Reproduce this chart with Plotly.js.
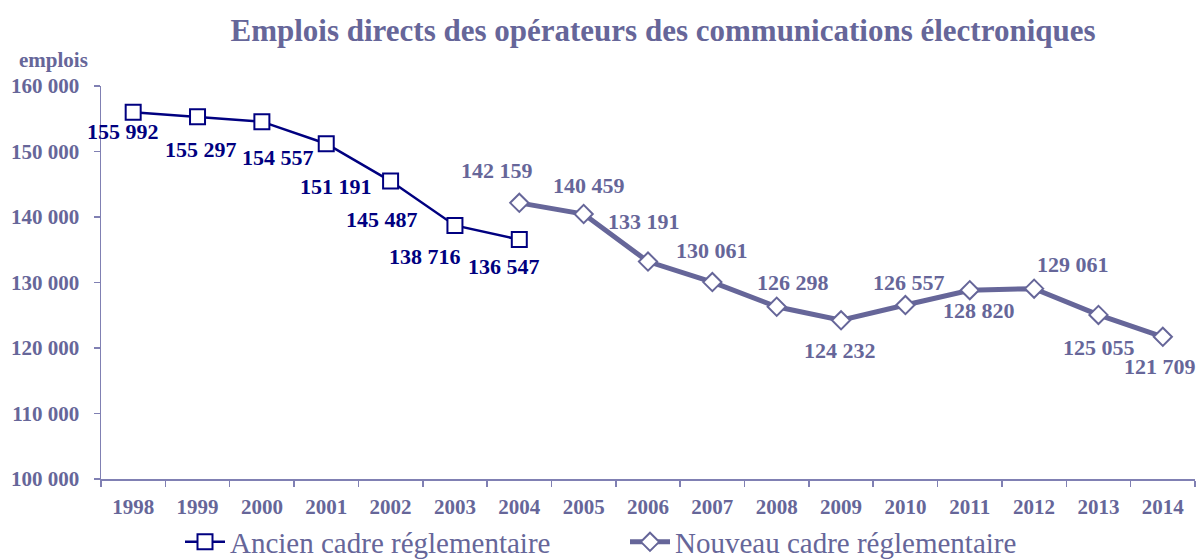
<!DOCTYPE html>
<html><head><meta charset="utf-8">
<script src="https://cdn.plot.ly/plotly-3.0.1.min.js"></script>
<style>html,body{margin:0;padding:0;background:#fff}#chart{width:1201px;height:559px}</style>
</head><body><div id="chart"></div>
<script>
const years = ["1998","1999","2000","2001","2002","2003","2004","2005","2006","2007","2008","2009","2010","2011","2012","2013","2014"];
const oldYears = ["1998","1999","2000","2001","2002","2003","2004"];
const oldValues = [155992,155297,154557,151191,145487,138716,136547];
const newYears = ["2004","2005","2006","2007","2008","2009","2010","2011","2012","2013","2014"];
const newValues = [142159,140459,133191,130061,126298,124232,126557,128820,129061,125055,121709];
const yTicks = [100000,110000,120000,130000,140000,150000,160000];
const oldName = "Ancien cadre réglementaire";
const newName = "Nouveau cadre réglementaire";
// label offsets (pixels) relative to each point
const oldDx = [-10,3,16,10,-9,-30,-15];
const oldDy = [-19,-33,-36,-43,-38,-31,-27];
const newDx = [-22,5,-4,0,16,-1,4,9,39,1,-3];
const newDy = [32,28,40,32,24,-30,23,-20,24,-33,-30];

const fmt = v => String(v).replace(/\B(?=(\d{3})+(?!\d))/g, " ");
const FONT = "Liberation Serif, DejaVu Serif, serif";
const NAVY = "#000080", SLATE = "#666699", AXIS = "#8080b3";

const traces = [
  {x: oldYears, y: oldValues, name: oldName, type: "scatter", mode: "lines+markers",
   line: {color: NAVY, width: 2.5},
   marker: {symbol: "square", size: 15, color: "#ffffff", line: {color: NAVY, width: 2}}},
  {x: newYears, y: newValues, name: newName, type: "scatter", mode: "lines+markers",
   line: {color: SLATE, width: 5},
   marker: {symbol: "diamond", size: 14, color: "#ffffff", line: {color: SLATE, width: 2}}}
];

const annotations = [];
oldYears.forEach((yr, i) => annotations.push({x: years.indexOf(yr), y: oldValues[i], xref: "x", yref: "y",
  text: fmt(oldValues[i]), showarrow: false, xshift: oldDx[i], yshift: oldDy[i],
  xanchor: "center", yanchor: "middle",
  font: {family: FONT, size: 22, color: NAVY, weight: "bold"}}));
newYears.forEach((yr, i) => annotations.push({x: years.indexOf(yr), y: newValues[i], xref: "x", yref: "y",
  text: fmt(newValues[i]), showarrow: false, xshift: newDx[i], yshift: newDy[i],
  xanchor: "center", yanchor: "middle",
  font: {family: FONT, size: 22, color: SLATE, weight: "bold"}}));
annotations.push({xref: "paper", yref: "paper", x: -0.043, y: 1.0, yshift: 26, xanchor: "center", yanchor: "middle",
  text: "emplois", showarrow: false, font: {family: FONT, size: 21, color: SLATE, weight: "bold"}});

const layout = {
  width: 1201, height: 559,
  margin: {l: 101, r: 6, t: 86, b: 80, autoexpand: false},
  paper_bgcolor: "#ffffff", plot_bgcolor: "#ffffff",
  font: {family: FONT, color: SLATE},
  title: {text: "Emplois directs des opérateurs des communications électroniques",
    x: 663/1201, xref: "container", xanchor: "center", y: 1 - 30/559, yanchor: "middle",
    font: {family: FONT, size: 31, color: SLATE, weight: "bold"}},
  xaxis: {type: "category", categoryorder: "array", categoryarray: years, range: [-0.5, 16.5],
    showgrid: false, zeroline: false, showline: true, linecolor: AXIS, linewidth: 1.5,
    ticks: "outside", tickson: "boundaries", ticklen: 6, tickcolor: AXIS, tickwidth: 1.5,
    ticklabelstandoff: 8,
    tickfont: {family: FONT, size: 21, color: SLATE, weight: "bold"}, fixedrange: true},
  yaxis: {range: [100000, 160000], tickvals: yTicks, ticktext: yTicks.map(fmt),
    showgrid: false, zeroline: false, showline: true, linecolor: AXIS, linewidth: 1.5,
    ticks: "outside", ticklen: 6, tickcolor: AXIS, tickwidth: 1.5, ticklabelstandoff: 10,
    tickfont: {family: FONT, size: 21, color: SLATE, weight: "bold"}, fixedrange: true},
  showlegend: true,
  legend: {orientation: "h", x: (180 - 101) / 1094, xanchor: "left", y: (479 - 542) / 393, yanchor: "middle",
    font: {family: FONT, size: 29, color: SLATE}, itemwidth: 40, tracegroupgap: 0,
    entrywidth: 390, entrywidthmode: "pixels",
    bgcolor: "rgba(0,0,0,0)"},
  annotations: annotations
};
Plotly.newPlot("chart", traces, layout, {displayModeBar: false, staticPlot: true});
</script></body></html>
